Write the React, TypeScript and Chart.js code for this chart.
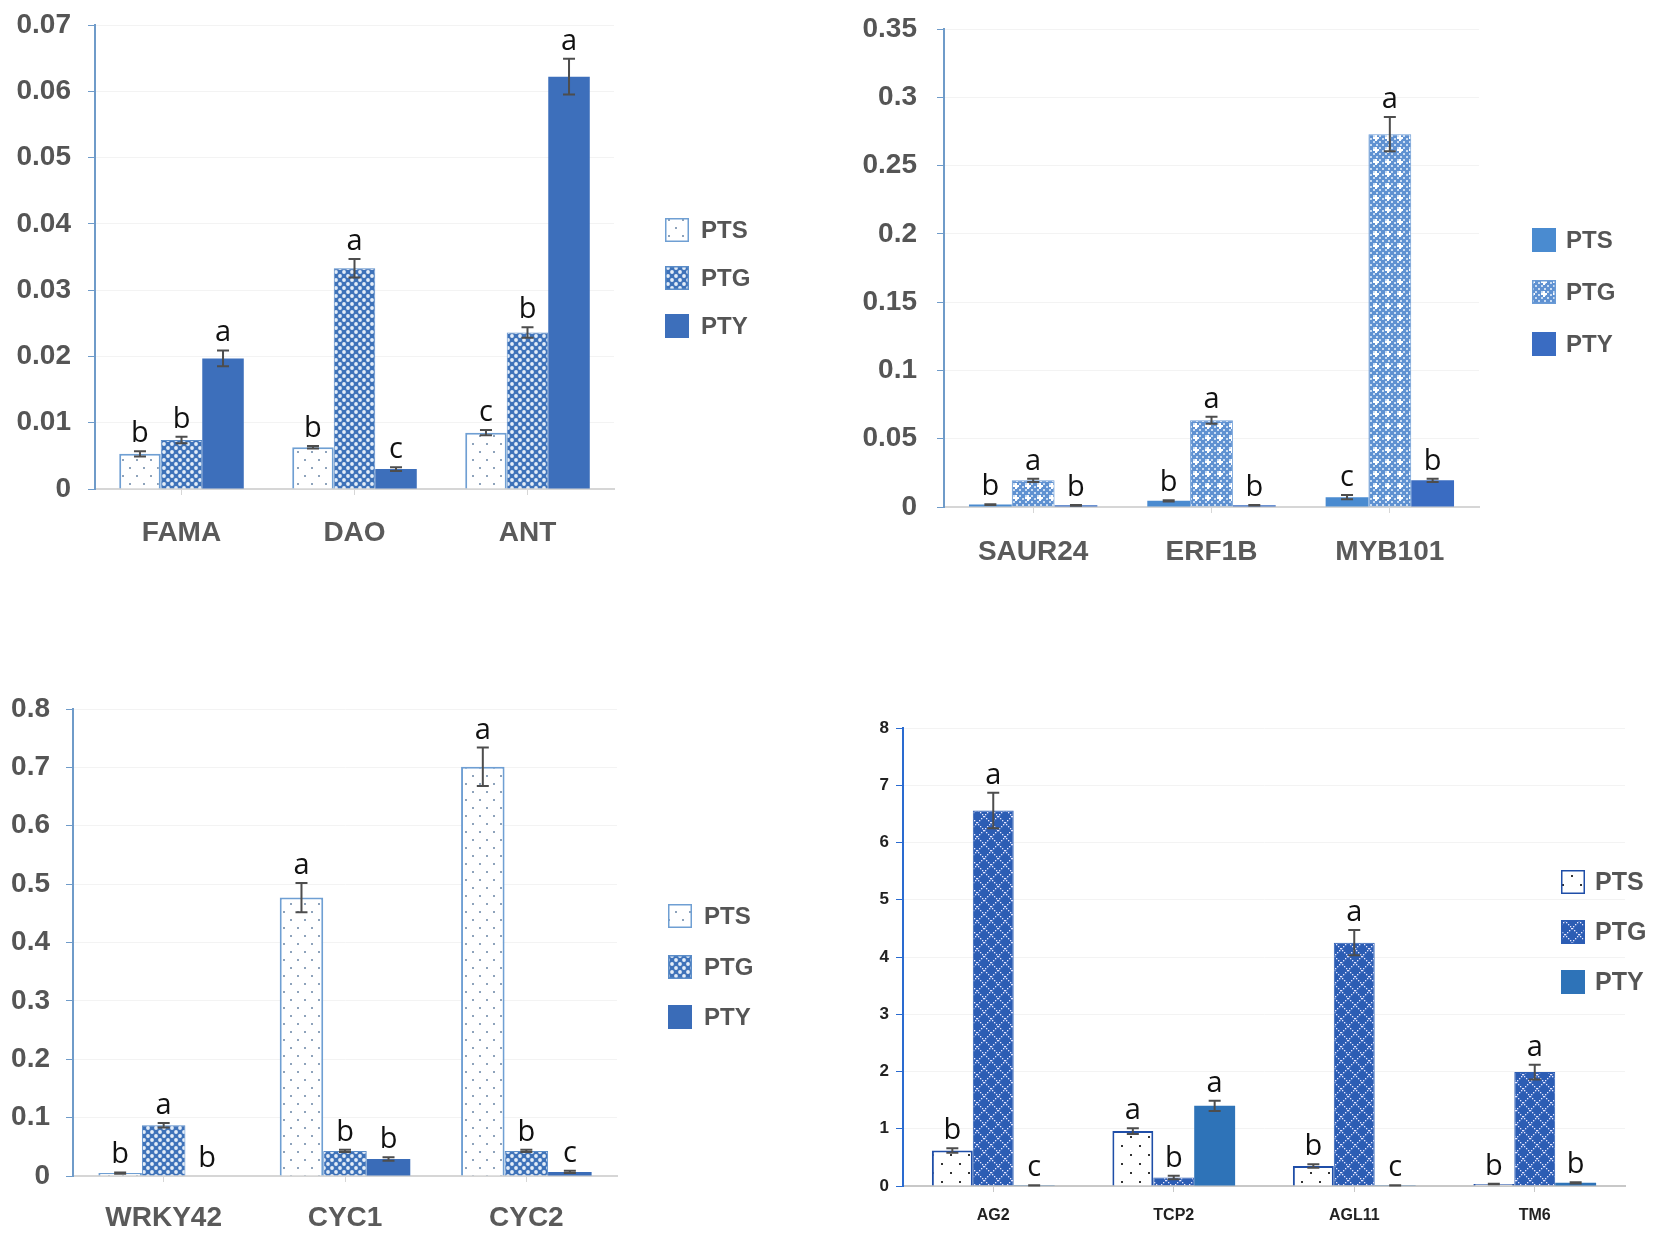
import React, { useEffect, useRef } from "react";
import { Chart, registerables } from "chart.js";

Chart.register(...registerables);

// ---------------- data ----------------
const seriesLabels = ["PTS", "PTG", "PTY"];

// Panel 1 (top left)
const genes1 = ["FAMA", "DAO", "ANT"];
const pts1 = [0.0053, 0.0063, 0.0085];
const ptg1 = [0.0074, 0.0333, 0.0236];
const pty1 = [0.0197, 0.003, 0.0622];
const ptsErr1 = [0.0004, 0.0002, 0.0004];
const ptgErr1 = [0.0005, 0.0014, 0.0008];
const ptyErr1 = [0.0012, 0.0003, 0.0027];
const ptsSig1 = ["b", "b", "c"];
const ptgSig1 = ["b", "a", "b"];
const ptySig1 = ["a", "c", "a"];
const yTicks1 = [0, 0.01, 0.02, 0.03, 0.04, 0.05, 0.06, 0.07];

// Panel 2 (top right)
const genes2 = ["SAUR24", "ERF1B", "MYB101"];
const pts2 = [0.0018, 0.0045, 0.0072];
const ptg2 = [0.0195, 0.0635, 0.273];
const pty2 = [0.0012, 0.0013, 0.0195];
const ptsErr2 = [0.0003, 0.0005, 0.0015];
const ptgErr2 = [0.0012, 0.0025, 0.0125];
const ptyErr2 = [0.0002, 0.0002, 0.0012];
const ptsSig2 = ["b", "b", "c"];
const ptgSig2 = ["a", "a", "a"];
const ptySig2 = ["b", "b", "b"];
const yTicks2 = [0, 0.05, 0.1, 0.15, 0.2, 0.25, 0.3, 0.35];

// Panel 3 (bottom left)
const genes3 = ["WRKY42", "CYC1", "CYC2"];
const pts3 = [0.005, 0.477, 0.701];
const ptg3 = [0.087, 0.043, 0.043];
const pty3 = [0.0, 0.029, 0.007];
const ptsErr3 = [0.001, 0.025, 0.033];
const ptgErr3 = [0.004, 0.002, 0.002];
const ptyErr3 = [0, 0.003, 0.002];
const ptsSig3 = ["b", "a", "a"];
const ptgSig3 = ["a", "b", "b"];
const ptySig3 = ["b", "b", "c"];
const yTicks3 = [0, 0.1, 0.2, 0.3, 0.4, 0.5, 0.6, 0.7, 0.8];

// Panel 4 (bottom right)
const genes4 = ["AG2", "TCP2", "AGL11", "TM6"];
const pts4 = [0.62, 0.96, 0.35, 0.035];
const ptg4 = [6.56, 0.15, 4.25, 1.99];
const pty4 = [0.012, 1.4, 0.012, 0.055];
const ptsErr4 = [0.04, 0.05, 0.03, 0.005];
const ptgErr4 = [0.31, 0.03, 0.22, 0.13];
const ptyErr4 = [0.003, 0.09, 0.003, 0.01];
const ptsSig4 = ["b", "a", "b", "b"];
const ptgSig4 = ["a", "b", "a", "a"];
const ptySig4 = ["c", "a", "c", "b"];
const yTicks4 = [0, 1, 2, 3, 4, 5, 6, 7, 8];

// ---------------- patterns ----------------
type Fill = CanvasPattern | string;

function tile(w: number, h: number, draw: (g: CanvasRenderingContext2D) => void): Fill {
  const c = document.createElement("canvas");
  c.width = w;
  c.height = h;
  const g = c.getContext("2d")!;
  draw(g);
  return g.createPattern(c, "repeat") || "#ffffff";
}

const sparseDots = (dot: string, w: number, h: number) => () =>
  tile(w, h, (g) => {
    g.fillStyle = "#ffffff";
    g.fillRect(0, 0, w, h);
    g.fillStyle = dot;
    g.fillRect(3, 3, 2, 2);
    g.fillRect(Math.round(w / 2) + 3, Math.round(h / 2) + 3, 2, 2);
  });

const netPattern = (bg: string, hole: string) => () =>
  tile(8, 8, (g) => {
    g.fillStyle = bg;
    g.fillRect(0, 0, 8, 8);
    g.fillStyle = hole;
    const pts = [
      [0, 0],
      [8, 0],
      [0, 8],
      [8, 8],
      [4, 4],
    ];
    pts.forEach(([x, y]) => {
      g.beginPath();
      g.arc(x, y, 1.9, 0, Math.PI * 2);
      g.fill();
    });
  });

const finePattern = () =>
  tile(12, 12, (g) => {
    g.fillStyle = "#5f91d1";
    g.fillRect(0, 0, 12, 12);
    g.fillStyle = "#c9dcf3";
    for (let i = 0; i < 4; i++)
      for (let j = 0; j < 4; j++) if ((i + j) % 2 === 0) g.fillRect(i * 3, j * 3, 2, 2);
    g.fillStyle = "#ffffff";
    g.fillRect(5, 3, 2, 6);
    g.fillRect(3, 5, 6, 2);
  });

const diamondPattern = () =>
  tile(14, 14, (g) => {
    g.fillStyle = "#2c5db4";
    g.fillRect(0, 0, 14, 14);
    g.fillStyle = "#e9e6ff";
    for (let t = 0; t < 14; t += 2) {
      g.fillRect(t, t, 1.3, 1.3);
      g.fillRect(13 - t, t, 1.3, 1.3);
    }
  });

const solid = (c: string) => () => c;

// ---------------- panel config ----------------
type Panel = {
  pageX: number;
  pageY: number;
  w: number;
  h: number;
  labels: string[];
  values: number[][];
  errors: number[][];
  letters: string[][];
  ticks: number[];
  axisX: number;
  axisTop: number;
  axisBottom: number;
  axisRight: number;
  catPct: number;
  fills: (() => Fill)[];
  borders: string[];
  borderWidths: number[];
  yAxisColor: string;
  xAxisColor: string;
  tickSize: number;
  tickColor: string;
  tickPad: number;
  xSize: number;
  xColor: string;
  xPad: number;
  legendBoxX: number;
  legendTextX: number;
  legendRows: number[];
  legendSize: number;
};

const FONT = "'Liberation Sans', Arial, sans-serif";
const LETTER_FONT = "'Open Sans', 'Liberation Sans', sans-serif";

const panels: Panel[] = [
  {
    pageX: 0, pageY: 0, w: 830, h: 620,
    labels: genes1,
    values: [pts1, ptg1, pty1],
    errors: [ptsErr1, ptgErr1, ptyErr1],
    letters: [ptsSig1, ptgSig1, ptySig1],
    ticks: yTicks1,
    axisX: 95, axisTop: 25, axisBottom: 489, axisRight: 614,
    catPct: 0.72,
    fills: [sparseDots("#8ea3bb", 14, 16), netPattern("#3e72b9", "#e4edf8"), solid("#3d6fbb")],
    borders: ["#6f9fd3", "#5a8cc8", "#3d6fbb"],
    borderWidths: [2, 1, 0],
    yAxisColor: "#6f9bc9", xAxisColor: "#d6d6d6",
    tickSize: 28, tickColor: "#555555", tickPad: 17,
    xSize: 28, xColor: "#5a5a5a", xPad: 21,
    legendBoxX: 665, legendTextX: 701, legendRows: [230, 278, 326], legendSize: 24,
  },
  {
    pageX: 830, pageY: 0, w: 831, h: 620,
    labels: genes2,
    values: [pts2, ptg2, pty2],
    errors: [ptsErr2, ptgErr2, ptyErr2],
    letters: [ptsSig2, ptgSig2, ptySig2],
    ticks: yTicks2,
    axisX: 114, axisTop: 29, axisBottom: 507, axisRight: 649,
    catPct: 0.72,
    fills: [solid("#4a8bd0"), finePattern, solid("#3a6cc2")],
    borders: ["#4a8bd0", "#6a9bd6", "#3a6cc2"],
    borderWidths: [0, 1, 0],
    yAxisColor: "#6f9bc9", xAxisColor: "#d6d6d6",
    tickSize: 28, tickColor: "#555555", tickPad: 20,
    xSize: 28, xColor: "#5a5a5a", xPad: 22,
    legendBoxX: 702, legendTextX: 736, legendRows: [240, 292, 344], legendSize: 24,
  },
  {
    pageX: 0, pageY: 620, w: 830, h: 620,
    labels: genes3,
    values: [pts3, ptg3, pty3],
    errors: [ptsErr3, ptgErr3, ptyErr3],
    letters: [ptsSig3, ptgSig3, ptySig3],
    ticks: yTicks3,
    axisX: 73, axisTop: 89, axisBottom: 556, axisRight: 617,
    catPct: 0.72,
    fills: [sparseDots("#8ea3bb", 14, 16), netPattern("#3e72b9", "#e4edf8"), solid("#3a6cb8")],
    borders: ["#6f9fd3", "#5a8cc8", "#3a6cb8"],
    borderWidths: [2, 1, 0],
    yAxisColor: "#6f9bc9", xAxisColor: "#d6d6d6",
    tickSize: 28, tickColor: "#555555", tickPad: 16,
    xSize: 28, xColor: "#5a5a5a", xPad: 19,
    legendBoxX: 668, legendTextX: 704, legendRows: [296, 347, 397], legendSize: 24,
  },
  {
    pageX: 830, pageY: 620, w: 831, h: 620,
    labels: genes4,
    values: [pts4, ptg4, pty4],
    errors: [ptsErr4, ptgErr4, ptyErr4],
    letters: [ptsSig4, ptgSig4, ptySig4],
    ticks: yTicks4,
    axisX: 73, axisTop: 108, axisBottom: 566, axisRight: 795,
    catPct: 0.68,
    fills: [sparseDots("#333333", 18, 18), diamondPattern, solid("#2e73b8")],
    borders: ["#1f4ea8", "#2c5db4", "#2e73b8"],
    borderWidths: [2, 1, 0],
    yAxisColor: "#2a6bd0", xAxisColor: "#c8c8c8",
    tickSize: 17, tickColor: "#222222", tickPad: 7,
    xSize: 16, xColor: "#222222", xPad: 14,
    legendBoxX: 731, legendTextX: 765, legendRows: [262, 312, 362], legendSize: 25,
  },
];

// ---------------- plugin: error bars, letters, legend ----------------
function annotPlugin(p: Panel) {
  return {
    id: "annot",
    afterDatasetsDraw(chart: any) {
      const ctx: CanvasRenderingContext2D = chart.ctx;
      const y = chart.scales.y;
      ctx.save();
      chart.data.datasets.forEach((ds: any, i: number) => {
        const meta = chart.getDatasetMeta(i);
        meta.data.forEach((el: any, j: number) => {
          const v = ds.data[j] as number;
          const e = p.errors[i][j];
          const x = el.x;
          let top = y.getPixelForValue(v);
          if (e > 0) {
            const t = y.getPixelForValue(v + e);
            const b = y.getPixelForValue(Math.max(0, v - e));
            ctx.strokeStyle = "#4d4d4d";
            ctx.lineWidth = 2;
            ctx.beginPath();
            ctx.moveTo(x, t);
            ctx.lineTo(x, b);
            ctx.moveTo(x - 6, t);
            ctx.lineTo(x + 6, t);
            ctx.moveTo(x - 6, b);
            ctx.lineTo(x + 6, b);
            ctx.stroke();
            top = Math.min(top, t);
          }
          ctx.fillStyle = "#111111";
          ctx.font = `29px ${LETTER_FONT}`;
          ctx.textAlign = "center";
          ctx.textBaseline = "alphabetic";
          ctx.fillText(p.letters[i][j], x, top - 9);
        });
      });
      ctx.restore();
    },
    afterDraw(chart: any) {
      const ctx: CanvasRenderingContext2D = chart.ctx;
      ctx.save();
      chart.data.datasets.forEach((ds: any, i: number) => {
        const cy = p.legendRows[i];
        const bx = p.legendBoxX;
        ctx.fillStyle = ds.backgroundColor;
        ctx.fillRect(bx, cy - 12, 24, 24);
        if (ds.borderWidth > 0) {
          ctx.strokeStyle = ds.borderColor;
          ctx.lineWidth = 1.5;
          ctx.strokeRect(bx + 0.75, cy - 11.25, 22.5, 22.5);
        }
        ctx.fillStyle = "#555555";
        ctx.font = `bold ${p.legendSize}px ${FONT}`;
        ctx.textAlign = "left";
        ctx.textBaseline = "middle";
        ctx.fillText(seriesLabels[i], p.legendTextX, cy + 1);
      });
      ctx.restore();
    },
  };
}

const fmt = (v: number | string) => String(parseFloat(Number(v).toFixed(4)));

function ChartPanel({ p }: { p: Panel }) {
  const ref = useRef<HTMLCanvasElement | null>(null);
  useEffect(() => {
    const canvas = ref.current!;
    const fills = p.fills.map((f) => f());
    const chart = new Chart(canvas, {
      type: "bar",
      data: {
        labels: p.labels,
        datasets: seriesLabels.map((name, i) => ({
          label: name,
          data: p.values[i],
          backgroundColor: fills[i] as any,
          borderColor: p.borders[i],
          borderWidth: p.borderWidths[i],
          borderSkipped: "start",
          categoryPercentage: p.catPct,
          barPercentage: 1,
        })),
      },
      options: {
        responsive: false,
        maintainAspectRatio: false,
        animation: false,
        devicePixelRatio: 1,
        layout: { padding: { left: 0, top: p.axisTop, right: p.w - p.axisRight, bottom: 0 } },
        plugins: { legend: { display: false }, tooltip: { enabled: false } },
        scales: {
          x: {
            grid: {
              display: true,
              drawOnChartArea: false,
              offset: false,
              tickLength: 6,
              color: p.xAxisColor,
              lineWidth: 1,
            },
            border: { color: p.xAxisColor, width: 2 },
            ticks: {
              font: { family: FONT, size: p.xSize, weight: "bold" },
              color: p.xColor,
              padding: p.xPad,
              maxRotation: 0,
              autoSkip: false,
            },
            afterFit: (s: any) => {
              s.height = p.h - p.axisBottom;
              s.paddingLeft = 0;
              s.paddingRight = 0;
            },
          },
          y: {
            min: 0,
            max: p.ticks[p.ticks.length - 1],
            grid: {
              color: "#f3f3f3",
              tickColor: p.yAxisColor,
              tickLength: 7,
              lineWidth: 1,
            },
            border: { color: p.yAxisColor, width: 2 },
            ticks: {
              font: { family: FONT, size: p.tickSize, weight: "bold" },
              color: p.tickColor,
              padding: p.tickPad,
              callback: (v: any) => fmt(v),
            },
            afterBuildTicks: (s: any) => {
              s.ticks = p.ticks.map((v) => ({ value: v }));
            },
            afterFit: (s: any) => {
              s.width = p.axisX;
              s.paddingTop = 0;
              s.paddingBottom = 0;
            },
          },
        },
      } as any,
      plugins: [annotPlugin(p) as any],
    });
    return () => chart.destroy();
  }, [p]);
  return (
    <canvas
      ref={ref}
      width={p.w}
      height={p.h}
      style={{ position: "absolute", left: p.pageX, top: p.pageY, width: p.w, height: p.h }}
    />
  );
}

export default function App() {
  return (
    <div
      style={{
        position: "absolute",
        left: 0,
        top: 0,
        width: 1661,
        height: 1240,
        background: "#ffffff",
        overflow: "hidden",
      }}
    >
      {panels.map((p, i) => (
        <ChartPanel key={i} p={p} />
      ))}
    </div>
  );
}
